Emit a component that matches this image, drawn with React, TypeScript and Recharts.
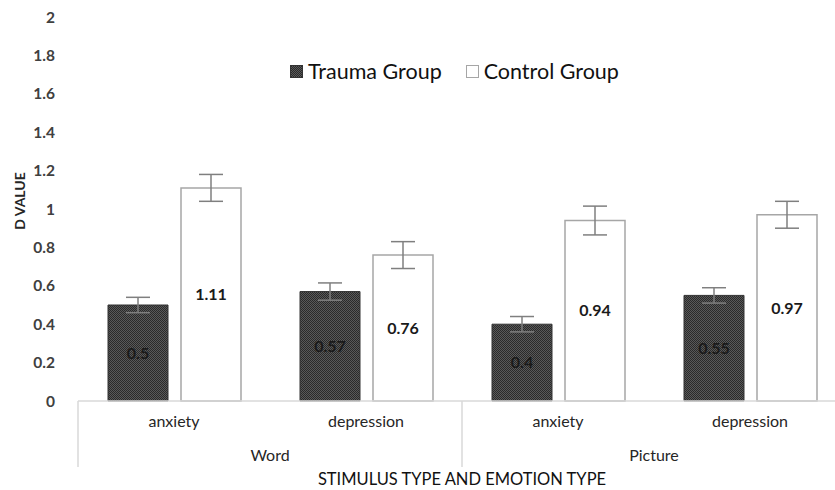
import React from 'react';
import {
    BarChart,
    Bar,
    XAxis,
    YAxis,
    ErrorBar,
    LabelList,
    Legend,
    Label,
} from 'recharts';

// categories and series
const emotionTypes = ['anxiety', 'depression', 'anxiety', 'depression'];
const stimulusTypes = ['Word', 'Word', 'Picture', 'Picture'];
const traumaValues = [0.5, 0.57, 0.4, 0.55];
const controlValues = [1.11, 0.76, 0.94, 0.97];
const traumaErrors = [0.04, 0.045, 0.04, 0.04];
const controlErrors = [0.07, 0.07, 0.075, 0.07];
const seriesNames = ['Trauma Group', 'Control Group'];
const yTicks = [0, 0.2, 0.4, 0.6, 0.8, 1, 1.2, 1.4, 1.6, 1.8, 2];

const data = emotionTypes.map((emotion, i) => ({
    emotion,
    stimulus: stimulusTypes[i],
    trauma: traumaValues[i],
    traumaErr: traumaErrors[i],
    control: controlValues[i],
    controlErr: controlErrors[i],
}));

const FONT = 'Lato, "Open Sans", sans-serif';

// --- swatch used in the legend ---
const Swatch = ({ dark }: { dark: boolean }) => (
    <svg width={13} height={13} style={{ marginRight: 5 }}>
        <rect
            x={0.5}
            y={0.5}
            width={12}
            height={12}
            fill={dark ? 'url(#traumaHatch)' : '#ffffff'}
            stroke={dark ? '#333' : '#a6a6a6'}
        />
    </svg>
);

const LegendBox = () => (
    <div style={{ display: 'flex', alignItems: 'center', fontFamily: FONT, fontSize: 21.5, color: '#111' }}>
        {seriesNames.map((name, i) => (
            <div key={name} style={{ display: 'flex', alignItems: 'center', marginRight: 24 }}>
                <Swatch dark={i === 0} />
                <span>{name}</span>
            </div>
        ))}
    </div>
);

// group tick (Word / Picture) with the separator line on its left
const StimulusTick = (props: any) => {
    const { x, y, payload } = props;
    const left = payload.coordinate - (payload.offset || 0);
    return (
        <g>
            <line x1={left} x2={left} y1={y - 48} y2={y + 18} stroke="#d9d9d9" strokeWidth={1.5} />
            <text x={x} y={y} dy="0.75em" textAnchor="middle" fontSize={16} fill="#262626" fontFamily={FONT}>
                {payload.value}
            </text>
        </g>
    );
};

const App = () => {
    return (
        <div style={{ position: 'absolute', left: 0, top: 0, width: 835, height: 490, overflow: 'hidden', background: '#fff' }}>
            <svg width={0} height={0} style={{ position: 'absolute' }}>
                <defs>
                    <pattern id="traumaHatch" width={2} height={2} patternUnits="userSpaceOnUse">
                        <rect width={2} height={2} fill="#595959" />
                        <rect width={1} height={1} fill="#2a2a2a" />
                        <rect x={1} y={1} width={1} height={1} fill="#2a2a2a" />
                    </pattern>
                </defs>
            </svg>
            <BarChart
                width={850}
                height={490}
                data={data}
                margin={{ top: 17, right: 4, left: 0, bottom: 0 }}
                barSize={60}
                barGap={13}
            >
                <XAxis
                    dataKey="emotion"
                    tickLine={false}
                    tickSize={0}
                    tickMargin={15}
                    height={36}
                    axisLine={{ stroke: '#d9d9d9', strokeWidth: 1.5 }}
                    tick={{ fontSize: 16, fill: '#262626', fontFamily: FONT }}
                />
                <XAxis
                    xAxisId="stimulus"
                    dataKey="stimulus"
                    allowDuplicatedCategory={false}
                    axisLine={false}
                    tickLine={false}
                    tickSize={0}
                    tickMargin={12}
                    height={53}
                    tick={<StimulusTick />}
                >
                    <Label
                        value="STIMULUS TYPE AND EMOTION TYPE"
                        position="insideBottom"
                        offset={5}
                        style={{ fontSize: 16.5, fill: '#111', fontFamily: FONT }}
                    />
                </XAxis>
                <YAxis
                    domain={[0, 2]}
                    ticks={yTicks}
                    width={78}
                    axisLine={false}
                    tickLine={false}
                    tickSize={0}
                    tickMargin={23}
                    tick={{ fontSize: 15.5, fill: '#404040', fontWeight: 700, fontFamily: FONT }}
                >
                    <Label
                        value="D VALUE"
                        angle={-90}
                        position="insideLeft"
                        offset={20}
                        dy={-8}
                        style={{ textAnchor: 'middle', fontSize: 14, fontWeight: 700, fill: '#262626', fontFamily: FONT }}
                    />
                </YAxis>
                <Legend
                    layout="vertical"
                    align="center"
                    verticalAlign="middle"
                    content={<LegendBox />}
                    wrapperStyle={{ top: 58, left: 290, width: 420 }}
                />
                <Bar dataKey="trauma" name={seriesNames[0]} fill="url(#traumaHatch)" stroke="#333" strokeWidth={1} isAnimationActive={false}>
                    <ErrorBar dataKey="traumaErr" width={12} stroke="#7f7f7f" strokeWidth={1.5} />
                    <LabelList
                        dataKey="trauma"
                        position="center"
                        style={{ fontSize: 16, fontWeight: 700, fill: '#1a1a1a', fontFamily: FONT }}
                    />
                </Bar>
                <Bar dataKey="control" name={seriesNames[1]} fill="#ffffff" stroke="#a6a6a6" strokeWidth={1.5} isAnimationActive={false}>
                    <ErrorBar dataKey="controlErr" width={12} stroke="#7f7f7f" strokeWidth={1.5} />
                    <LabelList
                        dataKey="control"
                        position="center"
                        style={{ fontSize: 16, fontWeight: 700, fill: '#1a1a1a', fontFamily: FONT }}
                    />
                </Bar>
            </BarChart>
        </div>
    );
};

export default App;
